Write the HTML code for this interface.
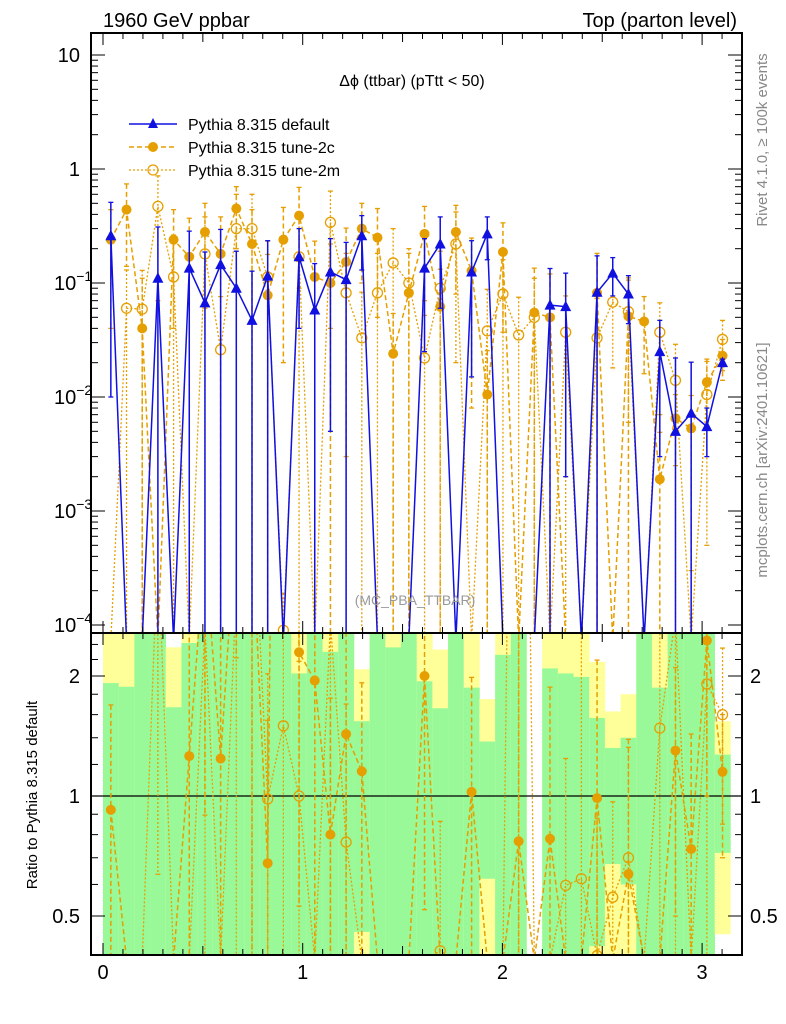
<!DOCTYPE html>
<html><head><meta charset="utf-8"><style>
html,body{margin:0;padding:0;background:#fff;width:786px;height:1024px;overflow:hidden;}
svg{display:block;font-family:"Liberation Sans",sans-serif;}
</style></head><body>
<svg id="chart" width="786" height="1024" viewBox="0 0 786 1024" xmlns="http://www.w3.org/2000/svg">
<defs>
<clipPath id="cm"><rect x="91" y="33" width="651" height="600"/></clipPath>
<clipPath id="cr"><rect x="91" y="633" width="651" height="322"/></clipPath>
</defs>
<g id="bands" clip-path="url(#cr)"></g>
<g id="mainMarks" clip-path="url(#cm)"></g>
<g id="ratioMarks" clip-path="url(#cr)"></g>
<g id="axes"></g>
<text x="103" y="27" font-size="20">1960 GeV ppbar</text>
<text x="737" y="27" font-size="20" text-anchor="end">Top (parton level)</text>
<text x="412" y="86" font-size="16" text-anchor="middle">Δϕ (ttbar) (pTtt &lt; 50)</text>
<text x="415" y="605" font-size="14" fill="#999" text-anchor="middle">(MC_PBA_TTBAR)</text>
<text transform="translate(767,140) rotate(-90)" font-size="15" fill="#888" text-anchor="middle">Rivet 4.1.0, ≥ 100k events</text>
<text transform="translate(767,460) rotate(-90)" font-size="15" fill="#888" text-anchor="middle">mcplots.cern.ch [arXiv:2401.10621]</text>
<text transform="translate(37,795) rotate(-90)" font-size="15" text-anchor="middle">Ratio to Pythia 8.315 default</text>
<g>
 <g>
  <line x1="129" y1="124" x2="177" y2="124" stroke="#1010e0" stroke-width="1.5"/>
  <polygon points="153,118 158,128 148,128" fill="#1010e0"/>
  <text x="188" y="130" font-size="16">Pythia 8.315 default</text>
 </g>
 <g>
  <line x1="129" y1="147" x2="177" y2="147" stroke="#e69f00" stroke-width="1.5" stroke-dasharray="5,3"/>
  <circle cx="153" cy="147" r="5" fill="#e69f00"/>
  <text x="188" y="153" font-size="16">Pythia 8.315 tune-2c</text>
 </g>
 <g>
  <line x1="129" y1="170" x2="177" y2="170" stroke="#e69f00" stroke-width="1.3" stroke-dasharray="2,2"/>
  <circle cx="153" cy="170" r="5" fill="none" stroke="#e69f00" stroke-width="1.3"/>
  <text x="188" y="176" font-size="16">Pythia 8.315 tune-2m</text>
 </g>
</g>
</svg>
<script>
const defVals = [0.26,0,0,0.11,0,0.135,0.067,0.145,0.09,0.047,0.115,0.00006,0.17,0.058,0.125,0.107,0.26,0,0,0,0.135,0.22,0,0.125,0.27,0,0.00005,0,0.064,0.062,0.00005,0.083,0.122,0.08,0,0.025,0.005,0.0072,0.0055,0.02];
const defErr = [0.25,0,0,0.2,0,0.15,0.12,0.15,0.1,0.08,0.12,0.0001,0.13,0.09,0.12,0.12,0.13,0,0,0,0.11,0.16,0,0.11,0.11,0,0.0001,0,0.07,0.06,0.0001,0.09,0.045,0.036,0,0.022,0.017,0.013,0.0025,0.0015];
const c2Vals = [0.24,0.44,0.04,0,0.24,0.17,0.28,0.18,0.45,0.22,0.078,0.24,0.39,0.113,0.1,0.153,0.3,0.25,0.024,0.082,0.27,0.062,0.28,0.128,0.0105,0.187,0.0000385,0.055,0.05,0,0,0.082,0,0.051,0.046,0.0019,0.0065,0.0053,0.0135,0.023];
const c2Err = [0.2,0.3,0.07,0,0.2,0.2,0.22,0.2,0.25,0.22,0.1,0.22,0.3,0.12,0.12,0.15,0.2,0.2,0.03,0.1,0.2,0.07,0.2,0.12,0.015,0.15,0.0001,0.08,0.07,0,0,0.1,0,0.06,0.03,0.003,0.004,0.005,0.008,0.009];
const m2Vals = [0,0.06,0.059,0.47,0.113,0,0.18,0.026,0.3,0.3,0.113,0.00009,0.17,0,0.34,0.082,0.033,0.082,0.15,0.1,0.022,0.09,0.22,0,0.038,0.08,0.035,0.05,0,0.037,0.000031,0.033,0.068,0.056,0,0.037,0.014,0,0.0105,0.032];
const m2Err = [0,0.07,0.07,0.4,0.15,0,0.2,0.05,0.3,0.3,0.12,0.0001,0.2,0,0.3,0.1,0.05,0.1,0.15,0.1,0.03,0.1,0.2,0,0.05,0.08,0.04,0.06,0,0.04,0.0001,0.04,0.05,0.05,0,0.03,0.015,0,0.01,0.015];
const greenHi = [1.92,1.88,3,3,1.67,2.42,3,3,3,3,3,3,2.03,3,2.3,3,1.54,3,2.36,3,1.94,1.66,3,1.87,1.37,2.26,3,null,2.09,2.03,1.99,1.57,1.32,1.4,3,1.87,3,3,3,1.27];
const yellowHi = [3,3,3,3,2.36,3,3,3,3,3,3,3,3,3,3,3,2.08,3,3,3,3,2.33,3,3,1.75,3,3,null,3,3,3,2.17,1.63,1.8,3,3,3,3,3,1.54];
const greenLo = [0.3,0.3,0.3,0.3,0.3,0.3,0.3,0.3,0.3,0.3,0.3,0.3,0.3,0.3,0.3,0.3,0.456,0.3,0.3,0.3,0.3,0.3,0.3,0.3,0.62,0.3,0.3,null,0.3,0.3,0.3,0.42,0.675,0.6,0.3,0.3,0.3,0.3,0.3,0.72];
const yellowLo = [0.3,0.3,0.3,0.3,0.3,0.3,0.3,0.3,0.3,0.3,0.3,0.3,0.3,0.3,0.3,0.3,0.3,0.3,0.3,0.3,0.3,0.3,0.3,0.3,0.3,0.3,0.3,null,0.3,0.3,0.3,0.3,0.3,0.3,0.3,0.3,0.3,0.3,0.3,0.45];
const xTicks = [0,1,2,3];
const yTicks = [10,1,0.1,0.01,0.001,0.0001];
const yTickLabels = ["10","1","10|−1","10|−2","10|−3","10|−4"];
const rTicks = [2,1,0.5];
const rTickLabels = ["2","1","0.5"];

const NS="http://www.w3.org/2000/svg";
const NB=40, W=Math.PI/NB;
const xp=v=>103+199.7*v;
const my=v=>v>0?Math.min(640,169-114*Math.log10(v)):640;
const ry=r=>r>0?Math.min(960,796-120*Math.log2(r)):960;
const BLUE="#1010e0", ORANGE="#e69f00";
function mk(tag,attrs,parent){const e=document.createElementNS(NS,tag);for(const k in attrs)e.setAttribute(k,attrs[k]);parent.appendChild(e);return e;}
const bands=document.getElementById('bands'), mm=document.getElementById('mainMarks'), rm=document.getElementById('ratioMarks'), ax=document.getElementById('axes');

for(let i=0;i<NB;i++){
  if(greenHi[i]===null)continue;
  const x0=xp(i*W), x1=xp((i+1)*W);
  const y=mk('rect',{x:x0,y:ry(yellowHi[i]),width:x1-x0+0.3,height:ry(yellowLo[i])-ry(yellowHi[i]),fill:"#ffff99"},bands);
  
  
  const g=mk('rect',{x:x0,y:ry(greenHi[i]),width:x1-x0+0.3,height:ry(greenLo[i])-ry(greenHi[i]),fill:"#99f999"},bands);
  
  
}
mk('line',{x1:91,y1:ry(1),x2:742,y2:ry(1),stroke:"#000","stroke-width":1.2},rm);

function series(vals,errs,color,dash,sw,marker,name,parent,yf,bottom){
  const g=mk('g',{},parent);
  
  
  const pts=vals.map((v,i)=>[xp((i+0.5)*W),yf(v)]);
  const pl=mk('polyline',{points:pts.map(p=>p.join(',')).join(' '),fill:"none",stroke:color,"stroke-width":sw,"stroke-dasharray":dash},g);
  
  
  vals.forEach((v,i)=>{
    if(!(v>0))return;
    const x=pts[i][0], y=pts[i][1];
    if(y>=bottom)return;
    if(errs){
      const e=errs[i];
      const yt=yf(v+e), yb=(v-e>0)?yf(v-e):bottom;
      mk('line',{x1:x,y1:yt,x2:x,y2:yb,stroke:color,"stroke-width":sw,"stroke-dasharray":dash},g);
      mk('line',{x1:x-2.5,y1:yt,x2:x+2.5,y2:yt,stroke:color,"stroke-width":1.3},g);
      if(v-e>0)mk('line',{x1:x-2.5,y1:yb,x2:x+2.5,y2:yb,stroke:color,"stroke-width":1.3},g);
    }
    let m;
    if(marker==='tri')m=mk('polygon',{points:`${x},${y-6} ${x+5.5},${y+4.5} ${x-5.5},${y+4.5}`,fill:color},g);
    else if(marker==='dot')m=mk('circle',{cx:x,cy:y,r:5,fill:color},g);
    else m=mk('circle',{cx:x,cy:y,r:5,fill:"#fff","fill-opacity":0,stroke:color,"stroke-width":1.3},g);
    
    
  });
}
series(m2Vals,m2Err,ORANGE,"2,2",1.3,'open','tune-2m-series',mm,my,640);
series(c2Vals,c2Err,ORANGE,"5,3",1.5,'dot','tune-2c-series',mm,my,640);
series(defVals,defErr,BLUE,"none",1.5,'tri','default-series',mm,my,640);

function ratio(vals){return vals.map((v,i)=>defVals[i]>0?v/defVals[i]:0);}
function ratioErr(vals,errs){return vals.map((v,i)=>defVals[i]>0?errs[i]/defVals[i]:0);}
series(ratio(m2Vals),ratioErr(m2Vals,m2Err),ORANGE,"2,2",1.3,'open','ratio-tune-2m',rm,ry,960);
series(ratio(c2Vals),ratioErr(c2Vals,c2Err),ORANGE,"5,3",1.5,'dot','ratio-tune-2c',rm,ry,960);

const f1=mk('rect',{x:91,y:33,width:651,height:600,fill:"none",stroke:"#000","stroke-width":2},ax);


const f2=mk('rect',{x:91,y:633,width:651,height:322,fill:"none",stroke:"#000","stroke-width":2},ax);


for(let k=0;k<=32;k++){
  const v=k/10, x=xp(v), major=(k%10===0), len=major?12:(k%5===0?9:6);
  [[33,1],[633,-1],[633,1],[955,-1]].forEach(([y0,d])=>mk('line',{x1:x,y1:y0,x2:x,y2:y0+d*len,stroke:"#000","stroke-width":1},ax));
}
xTicks.forEach(t=>{
  const tx=mk('text',{x:xp(t),y:979,"font-size":20,"text-anchor":"middle"},ax);
  tx.textContent=String(t);
  
  
});
for(let d=-4;d<=1;d++){
  for(let m=1;m<=9;m++){
    const v=m*Math.pow(10,d), y=169-114*Math.log10(v);
    if(y<33||y>633)continue;
    const len=m===1?14:7;
    mk('line',{x1:91,y1:y,x2:91+len,y2:y,stroke:"#000"},ax);
    mk('line',{x1:742,y1:y,x2:742-len,y2:y,stroke:"#000"},ax);
  }
}
yTicks.forEach((t,i)=>{
  const parts=yTickLabels[i].split('|');
  const tx=mk('text',{x:80,y:my(t)+7,"font-size":20,"text-anchor":"end"},ax);
  if(parts.length>1){tx.setAttribute('x',54);tx.setAttribute('text-anchor','start');}
  tx.textContent=parts[0];
  if(parts.length>1){const s=mk('tspan',{dy:-9,"font-size":14},tx);s.textContent=parts[1];}
  
  
});
[0.5,0.6,0.7,0.8,0.9,1,1.2,1.4,1.6,1.8,2,2.2,2.4].forEach(r=>{
  const y=ry(r), len=(r===0.5||r===1||r===2)?14:7;
  mk('line',{x1:91,y1:y,x2:91+len,y2:y,stroke:"#000"},ax);
  mk('line',{x1:742,y1:y,x2:742-len,y2:y,stroke:"#000"},ax);
});
rTicks.forEach((t,i)=>{
  const a=mk('text',{x:80,y:ry(t)+7,"font-size":20,"text-anchor":"end"},ax);
  a.textContent=rTickLabels[i];
  
  
  const b=mk('text',{x:750,y:ry(t)+7,"font-size":20},ax);
  b.textContent=rTickLabels[i];
  
  
});
</script>
</body></html>
